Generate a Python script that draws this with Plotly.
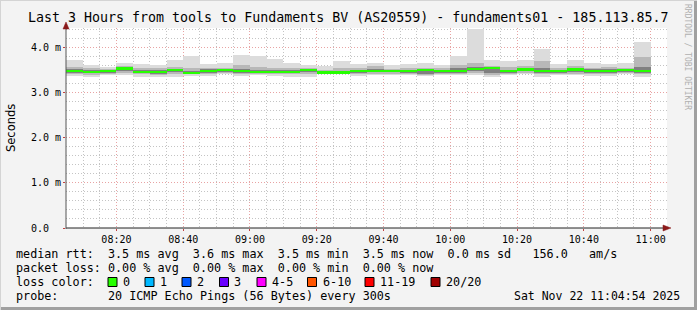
import plotly.graph_objects as go

# ---------------- data (ms) ----------------
times = ["08:05", "08:10", "08:15", "08:20", "08:25", "08:30", "08:35", "08:40", "08:45",
         "08:50", "08:55", "09:00", "09:05", "09:10", "09:15", "09:20", "09:25", "09:30",
         "09:35", "09:40", "09:45", "09:50", "09:55", "10:00", "10:05", "10:10", "10:15",
         "10:20", "10:25", "10:30", "10:35", "10:40", "10:45", "10:50", "10:55"]
median_ms = [3.48, 3.47, 3.48, 3.54, 3.47, 3.47, 3.50, 3.44, 3.48, 3.50, 3.48, 3.46,
             3.47, 3.47, 3.50, 3.45, 3.45, 3.48, 3.48, 3.48, 3.48, 3.50, 3.48, 3.48,
             3.53, 3.55, 3.48, 3.52, 3.48, 3.48, 3.52, 3.49, 3.48, 3.50, 3.48]
max_ms = [3.72, 3.62, 3.58, 3.67, 3.65, 3.61, 3.74, 3.81, 3.64, 3.67, 3.83, 3.81,
          3.76, 3.67, 3.61, 3.59, 3.70, 3.64, 3.67, 3.61, 3.63, 3.67, 3.62, 3.81,
          4.41, 3.74, 3.70, 3.72, 3.98, 3.63, 3.72, 3.67, 3.63, 3.67, 4.12]
min_ms = [3.38, 3.36, 3.39, 3.40, 3.36, 3.35, 3.36, 3.38, 3.37, 3.41, 3.38, 3.40,
          3.37, 3.36, 3.36, 3.42, 3.41, 3.38, 3.40, 3.40, 3.40, 3.37, 3.39, 3.39,
          3.40, 3.36, 3.40, 3.41, 3.36, 3.40, 3.39, 3.38, 3.38, 3.41, 3.36]
mid_hi = [3.58, 3.55, 3.53, 3.60, 3.55, 3.55, 3.58, 3.55, 3.56, 3.56, 3.62, 3.58,
          3.56, 3.55, 3.56, 3.50, 3.55, 3.55, 3.60, 3.54, 3.56, 3.55, 3.56, 3.62,
          3.67, 3.60, 3.57, 3.59, 3.70, 3.55, 3.60, 3.56, 3.58, 3.55, 3.80]
mid_lo = [3.42, 3.40, 3.42, 3.45, 3.41, 3.40, 3.42, 3.41, 3.42, 3.44, 3.42, 3.42,
          3.41, 3.41, 3.43, 3.43, 3.43, 3.42, 3.43, 3.43, 3.43, 3.40, 3.42, 3.42,
          3.44, 3.40, 3.43, 3.45, 3.41, 3.43, 3.43, 3.42, 3.42, 3.45, 3.41]
core_hi = [3.53, 3.51, 3.50, 3.57, 3.50, 3.51, 3.54, 3.49, 3.52, 3.53, 3.53, 3.50,
           3.51, 3.51, 3.53, 3.47, 3.49, 3.51, 3.52, 3.51, 3.51, 3.52, 3.51, 3.55,
           3.57, 3.58, 3.51, 3.55, 3.56, 3.51, 3.53, 3.52, 3.54, 3.52, 3.58]
core_lo = [3.45, 3.44, 3.44, 3.49, 3.44, 3.43, 3.46, 3.42, 3.45, 3.47, 3.45, 3.44,
           3.44, 3.44, 3.46, 3.44, 3.44, 3.45, 3.46, 3.46, 3.45, 3.42, 3.45, 3.45,
           3.49, 3.44, 3.45, 3.48, 3.45, 3.45, 3.46, 3.45, 3.45, 3.47, 3.45]

y_tickvals = [0, 1, 2, 3, 4]
y_ticktext = ["0.0\u00a0\u00a0", "1.0\u00a0m", "2.0\u00a0m", "3.0\u00a0m", "4.0\u00a0m"]
title_text = "Last 3 Hours from tools to Fundaments BV (AS20559) - fundaments01 - 185.113.85.7"
legend_lines = [
    "median rtt:  3.5 ms avg  3.6 ms max  3.5 ms min  3.5 ms now  0.0 ms sd   156.0   am/s",
    "packet loss: 0.00 % avg  0.00 % max  0.00 % min  0.00 % now",
    "loss color:",
    "probe:       20 ICMP Echo Pings (56 Bytes) every 300s",
]
loss_labels = ["0", "1", "2", "3", "4-5", "6-10", "11-19", "20/20"]
loss_colors = ["#26ff00", "#00b8ff", "#0059ff", "#6a00ff", "#ff00ff", "#ff5500", "#ff0000", "#a00000"]
date_text = "Sat Nov 22 11:04:54 2025"
day = "2025-11-22 "

# ---------------- geometry helpers ----------------
W, H = 697, 310
L, R, T, B = 66, 30, 28, 82
PW, PH = W - L - R, H - T - B


def px(x):
    return (x - L) / PW


def py(y):
    return (H - B - y) / PH


MONO = "DejaVu Sans Mono"
xs = [day + t + ":00" for t in times]
bw = 300000

fig = go.Figure()


def band(lo, hi, color):
    fig.add_trace(go.Bar(x=xs, base=lo, y=[h - l for h, l in zip(hi, lo)], width=bw, offset=0,
                         marker=dict(color=color, line=dict(width=0)), hoverinfo="skip",
                         showlegend=False))


band(min_ms, max_ms, "#dcdcdc")
band(mid_lo, mid_hi, "#b8b8b8")
band(core_lo, core_hi, "#808080")
# median band
thick = 0.05
band([m - thick / 2 for m in median_ms], [m + thick / 2 for m in median_ms], loss_colors[0])

grid_minor = "#c4c4c4"
grid_major = "#e8a3a3"
dash = "1px,2px"

fig.update_layout(
    width=W, height=H, margin=dict(l=L, r=R, t=T, b=B, pad=0),
    paper_bgcolor="#f3f3f3", plot_bgcolor="#ffffff",
    barmode="overlay", bargap=0, showlegend=False,
    font=dict(family=MONO, size=10, color="#000000"),
    xaxis=dict(type="date", range=[day + "08:04:54", day + "11:04:54"],
               tick0=day + "08:00:00", dtick=1200000, tickformat="%H:%M",
               showgrid=True, gridcolor=grid_major, griddash=dash, gridwidth=1,
               ticks="outside", ticklen=2, tickcolor="#c04040",
               tickfont=dict(family=MONO, size=10),
               minor=dict(dtick=300000, tick0=day + "08:00:00", showgrid=True,
                          gridcolor=grid_minor, griddash=dash, gridwidth=1),
               showline=False, zeroline=False, fixedrange=True),
    yaxis=dict(range=[0, 4.44], tickvals=y_tickvals, ticktext=y_ticktext,
               showgrid=True, gridcolor=grid_major, griddash=dash, gridwidth=1,
               ticks="outside", ticklen=2, tickcolor="#c04040",
               tickfont=dict(family=MONO, size=10),
               minor=dict(dtick=0.2, showgrid=True, gridcolor=grid_minor, griddash=dash,
                          gridwidth=1),
               showline=False, zeroline=False, fixedrange=True),
)

shapes = []
# axes
shapes.append(dict(type="line", xref="paper", yref="paper", x0=px(66), x1=px(668), y0=py(228), y1=py(228),
                   line=dict(color="#222222", width=1)))
shapes.append(dict(type="line", xref="paper", yref="paper", x0=px(66), x1=px(66), y0=py(229), y1=py(26),
                   line=dict(color="#555555", width=1)))
# arrows
def tri(pts):
    p = "M " + " L ".join(f"{px(a)},{py(b)}" for a, b in pts) + " Z"
    return dict(type="path", xref="paper", yref="paper", path=p, fillcolor="#8b1a1a",
                line=dict(color="#8b1a1a", width=0.5))


shapes.append(tri([(663, 225), (671, 228), (663, 231)]))
shapes.append(tri([(63, 29), (66, 22), (69, 29)]))
# frame
shapes.append(dict(type="line", xref="paper", yref="paper", x0=px(0), x1=px(697), y0=py(308.5), y1=py(308.5),
                   line=dict(color="#a0a0a0", width=3)))
shapes.append(dict(type="line", xref="paper", yref="paper", x0=px(695.5), x1=px(695.5), y0=py(0), y1=py(310),
                   line=dict(color="#a0a0a0", width=3)))
shapes.append(dict(type="line", xref="paper", yref="paper", x0=px(0), x1=px(697), y0=py(0.5), y1=py(0.5),
                   line=dict(color="#d4d4d4", width=1)))
shapes.append(dict(type="line", xref="paper", yref="paper", x0=px(0.5), x1=px(0.5), y0=py(0), y1=py(310),
                   line=dict(color="#d4d4d4", width=1)))

ann = []


def text(x, y, s, size=11.75, anchor="left", color="#000000", family=MONO, angle=0):
    ann.append(dict(x=px(x), y=py(y), xref="paper", yref="paper", text=s.replace(" ", "\u00a0"),
                    showarrow=False, xanchor=anchor, yanchor="middle", textangle=angle,
                    font=dict(family=family, size=size, color=color)))


text(348, 18, title_text, size=13.3, anchor="center")
text(11, 128, "Seconds", size=11.5, anchor="center", family="DejaVu Sans", angle=-90)
text(688, 57, "RRDTOOL / TOBI OETIKER", size=8, anchor="center", color="#b0b0b0", angle=90)

line_y = [254, 268, 282, 296]
for s, yy in zip(legend_lines, line_y):
    text(14, yy, s)
text(682, 296, date_text, anchor="right", size=11.5)

box_x = [108, 145, 182, 219.5, 257, 307.5, 365, 431]
for bx, lab, col in zip(box_x, loss_labels, loss_colors):
    shapes.append(dict(type="rect", xref="paper", yref="paper", x0=px(bx), x1=px(bx + 9),
                       y0=py(277.5), y1=py(286.5), fillcolor=col, line=dict(color="#000000", width=1)))
    text(bx + 13, 282, lab)

fig.update_layout(shapes=shapes, annotations=ann)
fig.write_html("out.html")
